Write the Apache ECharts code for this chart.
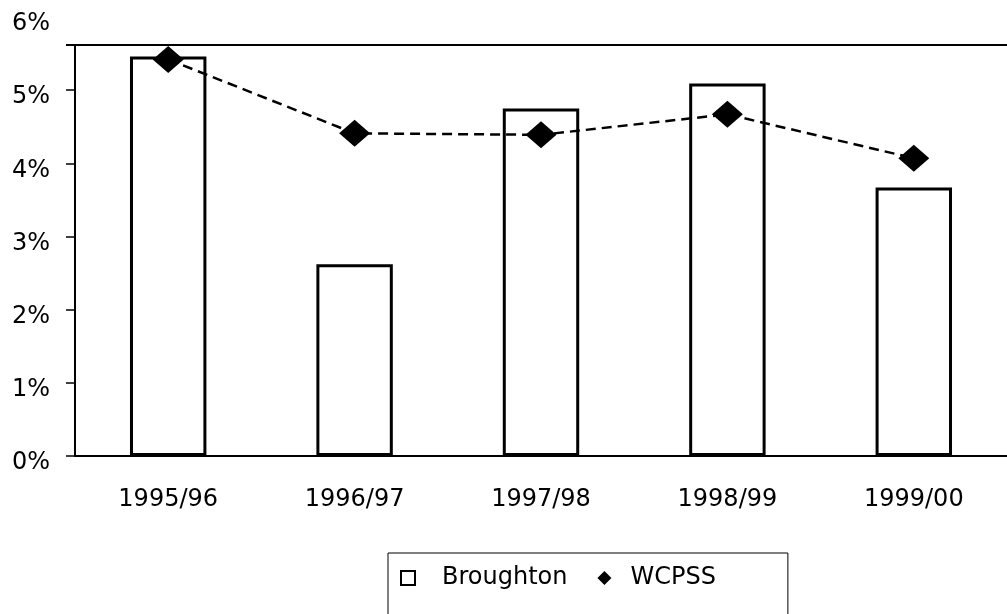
<!DOCTYPE html>
<html>
<head>
<meta charset="utf-8">
<script src="https://cdn.jsdelivr.net/npm/echarts@6/dist/echarts.min.js"></script>
<style>
  html, body { margin: 0; padding: 0; background: #fff; }
  #chart { width: 1007px; height: 614px; }
</style>
</head>
<body>
<div id="chart"></div>
<script>
var years = ["1995/96", "1996/97", "1997/98", "1998/99", "1999/00"];
var broughton = [5.46, 2.62, 4.75, 5.09, 3.67];
var wcpss = [5.42, 4.41, 4.39, 4.67, 4.07];
var yTicks = [0, 1, 2, 3, 4, 5, 6];

var chart = echarts.init(document.getElementById("chart"));
var font = "DejaVu Sans";

chart.setOption({
  backgroundColor: "#fff",
  animation: false,
  grid: {
    left: 75,
    right: -9,
    top: 17,
    bottom: 158
  },
  // plot frame: top edge (with its outer stub) and left edge
  graphic: [{
    type: "polyline",
    shape: { points: [[66, 45], [1007, 45]] },
    style: { stroke: "#000", lineWidth: 2, fill: null }
  }, {
    type: "line",
    shape: { x1: 75, y1: 45, x2: 75, y2: 457 },
    style: { stroke: "#000", lineWidth: 2 }
  }],
  legend: {
    left: 388,
    top: 553,
    padding: [13, 72, 26, 12],
    borderColor: "#000",
    borderWidth: 1,
    itemGap: 30,
    itemWidth: 14,
    itemHeight: 14,
    textStyle: {
      fontFamily: font,
      fontSize: 24,
      color: "#000",
      rich: {
        a: { fontFamily: font, fontSize: 24, color: "#000", padding: [0, 0, 0, 22] },
        b: { fontFamily: font, fontSize: 24, color: "#000", padding: [0, 0, 0, 14] }
      }
    },
    formatter: function (name) {
      return "{" + (name === "Broughton" ? "a" : "b") + "|" + name + "}";
    },
    data: [
      { name: "Broughton", icon: "rect", itemStyle: { color: "#fff", borderColor: "#000", borderWidth: 2 } },
      { name: "WCPSS", icon: "diamond", itemStyle: { color: "#000" } }
    ]
  },
  xAxis: {
    type: "category",
    data: years,
    axisLine: { lineStyle: { color: "#000", width: 2 } },
    axisTick: { length: 8, lineStyle: { color: "#000", width: 1 } },
    axisLabel: { margin: 32, fontFamily: font, fontSize: 24, color: "#000" }
  },
  yAxis: {
    type: "value",
    min: yTicks[0],
    max: yTicks[yTicks.length - 1],
    interval: 1,
    splitLine: { show: false },
    axisLine: { show: false },
    axisTick: {
      show: true,
      length: 9,
      customValues: yTicks.slice(0, 6),
      lineStyle: { color: "#000", width: 1.5 }
    },
    axisLabel: {
      margin: 25,
      color: "#000",
      formatter: function (v) { return "{v|" + v + "%}"; },
      rich: {
        v: { fontFamily: font, fontSize: 24, color: "#000", padding: [14, 0, 0, 0] }
      }
    }
  },
  series: [
    {
      name: "Broughton",
      type: "bar",
      data: broughton,
      barWidth: "41%",
      itemStyle: { color: "#fff", borderColor: "#000", borderWidth: 3 }
    },
    {
      name: "WCPSS",
      type: "line",
      data: wcpss,
      symbol: "diamond",
      symbolSize: [31, 27],
      z: 5,
      lineStyle: { color: "#000", width: 2.5, type: [10, 6] },
      itemStyle: { color: "#000" }
    }
  ]
});
</script>
</body>
</html>
